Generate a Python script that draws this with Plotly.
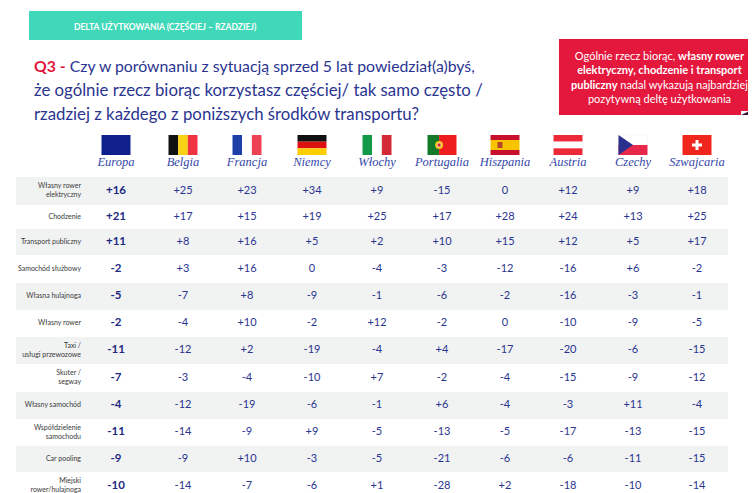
import math
import plotly.graph_objects as go

countries = ["Europa", "Belgia", "Francja", "Niemcy", "Włochy", "Portugalia",
             "Hiszpania", "Austria", "Czechy", "Szwajcaria"]
modes = ["Własny rower<br>elektryczny", "Chodzenie", "Transport publiczny",
         "Samochód służbowy", "Własna hulajnoga", "Własny rower",
         "Taxi /<br>usługi przewozowe", "Skuter /<br>segway", "Własny samochód",
         "Współdzielenie<br>samochodu", "Car pooling", "Miejski<br>rower/hulajnoga"]

europa = [16, 21, 11, -2, -5, -2, -11, -7, -4, -11, -9, -10]
belgia = [25, 17, 8, 3, -7, -4, -12, -3, -12, -14, -9, -14]
francja = [23, 15, 16, 16, 8, 10, 2, -4, -19, -9, 10, -7]
niemcy = [34, 19, 5, 0, -9, -2, -19, -10, -6, 9, -3, -6]
wlochy = [9, 25, 2, -4, -1, 12, -4, 7, -1, -5, -5, 1]
portugalia = [-15, 17, 10, -3, -6, -2, 4, -2, 6, -13, -21, -28]
hiszpania = [0, 28, 15, -12, -2, 0, -17, -4, -4, -5, -6, 2]
austria = [12, 24, 12, -16, -16, -10, -20, -15, -3, -17, -6, -18]
czechy = [9, 13, 5, 6, -3, -9, -6, -9, 11, -13, -11, -10]
szwajcaria = [18, 25, 17, -2, -1, -5, -15, -12, -4, -15, -15, -14]
values = [europa, belgia, francja, niemcy, wlochy, portugalia,
          hiszpania, austria, czechy, szwajcaria]

# layout in pixels (figure is drawn 1:1)
W, H = 756, 493
col_x = [108, 175, 239, 304, 369, 434, 497, 560, 625, 689]
row_edges = [169, 197, 221, 247, 275, 302, 329, 356, 384, 411, 438, 464, 492]
row_y = [(row_edges[i] + row_edges[i + 1]) / 2 for i in range(len(modes))]

NAVY = "#2a3590"
RED = "#e4173c"


def fmt(v):
    return "+%d" % v if v > 0 else "%d" % v


def rect(x0, y0, x1, y1, color, line=None):
    return dict(type="rect", xref="x", yref="y", x0=x0, y0=y0, x1=x1, y1=y1,
                fillcolor=color, line=dict(width=0) if line is None else line, layer="above")


shapes = []
# blue band on the right
shapes.append(rect(743, 0, W, H, "#0b2a9e"))
# teal header
shapes.append(rect(21, 3, 294, 32, "#3fd8b8"))
# red box + small fold
shapes.append(dict(type="path", path="M 733 107 L 752 107 L 752 98 Z",
                   fillcolor="#3a1030", line=dict(width=0), layer="above"))
shapes.append(rect(551, 31, 752, 103, RED))
shapes.append(rect(551, 103, 733, 107, RED))

# row stripes
for i in range(len(modes)):
    if i % 2 == 0:
        s = rect(8, row_edges[i], 720, row_edges[i + 1], "#f1f2f2")
        s["layer"] = "below"
        shapes.append(s)

# flags
fw, fh, ft = 29, 20, 127


def vflag(cx, cols):
    x0 = cx - fw / 2
    return [rect(x0 + k * fw / 3, ft, x0 + (k + 1) * fw / 3, ft + fh, c) for k, c in enumerate(cols)]


def hflag(cx, cols, parts=None):
    x0 = cx - fw / 2
    parts = parts or [1] * len(cols)
    tot = sum(parts)
    out, y = [], ft
    for c, p in zip(cols, parts):
        out.append(rect(x0, y, x0 + fw, y + fh * p / tot, c))
        y += fh * p / tot
    return out


cx = dict(zip(countries, col_x))
shapes.append(rect(cx["Europa"] - fw / 2, ft, cx["Europa"] + fw / 2, ft + fh, "#0f1f8c"))
shapes += vflag(cx["Belgia"], ["#111111", "#fbd116", "#ef3340"])
shapes += vflag(cx["Francja"], ["#1f3fa8", "#ffffff", "#ef4155"])
shapes += hflag(cx["Niemcy"], ["#111111", "#dd1010", "#ffce00"])
shapes += vflag(cx["Włochy"], ["#139a48", "#ffffff", "#d42a38"])
px0 = cx["Portugalia"] - fw / 2
shapes.append(rect(px0, ft, px0 + fw * 0.4, ft + fh, "#137a2a"))
shapes.append(rect(px0 + fw * 0.4, ft, px0 + fw, ft + fh, "#ee1c1c"))
shapes.append(dict(type="circle", x0=px0 + fw * 0.4 - 4, x1=px0 + fw * 0.4 + 4, y0=ft + 6, y1=ft + 14,
                   fillcolor="#f3c21b", line=dict(width=0), layer="above"))
shapes.append(dict(type="circle", x0=px0 + fw * 0.4 - 2, x1=px0 + fw * 0.4 + 2, y0=ft + 8, y1=ft + 12,
                   fillcolor="#d42020", line=dict(color="white", width=0.6), layer="above"))
shapes += hflag(cx["Hiszpania"], ["#c8102e", "#f8c400", "#c8102e"], [1, 2, 1])
sx0 = cx["Hiszpania"] - fw / 2
shapes.append(rect(sx0 + 7, ft + 7, sx0 + 12, ft + 13, "#b5432a"))
shapes += hflag(cx["Austria"], ["#ed2939", "#ffffff", "#ed2939"])
cz0 = cx["Czechy"] - fw / 2
shapes.append(rect(cz0, ft, cz0 + fw, ft + fh / 2, "#ffffff",
                   line=dict(color="#eeeeee", width=0.5)))
shapes.append(rect(cz0, ft + fh / 2, cz0 + fw, ft + fh, "#e8274a"))
shapes.append(dict(type="path", path="M %f %f L %f %f L %f %f Z" % (cz0, ft, cz0 + fw / 2, ft + fh / 2, cz0, ft + fh),
                   fillcolor="#2d2f8f", line=dict(width=0), layer="above"))
ch0 = cx["Szwajcaria"] - fw / 2
shapes.append(rect(ch0, ft, ch0 + fw, ft + fh, "#f0261c"))
shapes.append(rect(ch0 + fw / 2 - 1.5, ft + 5, ch0 + fw / 2 + 1.5, ft + 15, "#ffffff"))
shapes.append(rect(ch0 + fw / 2 - 5, ft + 8.5, ch0 + fw / 2 + 5, ft + 11.5, "#ffffff"))

fig = go.Figure()

# EU stars
ex, ey = cx["Europa"], ft + fh / 2
fig.add_trace(go.Scatter(
    x=[ex + 6.5 * math.cos(2 * math.pi * k / 12) for k in range(12)],
    y=[ey + 6.5 * math.sin(2 * math.pi * k / 12) for k in range(12)],
    mode="markers", marker=dict(symbol="star", size=3, color="#ffdd00", line=dict(width=0)),
    hoverinfo="skip", showlegend=False))

# column headers
fig.add_trace(go.Scatter(
    x=col_x, y=[155] * len(countries), mode="text", text=countries,
    textfont=dict(family="Liberation Serif", size=12.5, color="#3546a8", style="italic"),
    hoverinfo="skip", showlegend=False))

# row labels
fig.add_trace(go.Scatter(
    x=[73] * len(modes), y=row_y, mode="text", text=modes, textposition="middle left",
    textfont=dict(family="Lato", size=7, color="#3a3a3a"),
    hoverinfo="skip", showlegend=False))

# table values
for j, (country, vals) in enumerate(zip(countries, values)):
    fig.add_trace(go.Scatter(
        x=[col_x[j]] * len(vals), y=row_y, mode="text",
        text=["<b>%s</b>" % fmt(v) if j == 0 else fmt(v) for v in vals],
        textfont=dict(family="Lato", size=11.5 if j == 0 else 11,
                      color="#1d2a82" if j == 0 else NAVY),
        name=country, hovertemplate=country + ": %{text}<extra></extra>", showlegend=False))

title_font = dict(family="Lato", size=16.8, color=NAVY)
annotations = [
    dict(x=157, y=18, text="<b>DELTA UŻYTKOWANIA (CZĘŚCIEJ – RZADZIEJ)</b>",
         font=dict(family="Lato", size=8.5, color="white")),
    dict(x=24, y=57, xanchor="left",
         text="<b><span style='color:%s'>Q3 -</span></b> Czy w porównaniu z sytuacją sprzed 5 lat powiedział(a)byś," % RED,
         font=dict(family="Lato", size=15.8, color=NAVY)),
    dict(x=24, y=81, xanchor="left",
         text="że ogólnie rzecz biorąc korzystasz częściej/ tak samo często /", font=title_font),
    dict(x=24, y=105, xanchor="left",
         text="rzadziej z każdego z poniższych środków transportu?", font=title_font),
    dict(x=651, y=69, align="center",
         text="Ogólnie rzecz biorąc, <b>własny rower</b><br><b>elektryczny, chodzenie i transport</b><br>"
              "<b>publiczny</b> nadal wykazują najbardziej<br>pozytywną deltę użytkowania",
         font=dict(family="Lato", size=11, color="white")),
]
for a in annotations:
    a.update(xref="x", yref="y", showarrow=False)
    a.setdefault("xanchor", "center")
    a.setdefault("yanchor", "middle")

fig.update_layout(
    width=W, height=H, margin=dict(l=0, r=0, t=0, b=0),
    paper_bgcolor="white", plot_bgcolor="white",
    xaxis=dict(range=[0, W], visible=False, fixedrange=True),
    yaxis=dict(range=[H, 0], visible=False, fixedrange=True),
    shapes=shapes, annotations=annotations,
)

fig.write_html("out.html")
